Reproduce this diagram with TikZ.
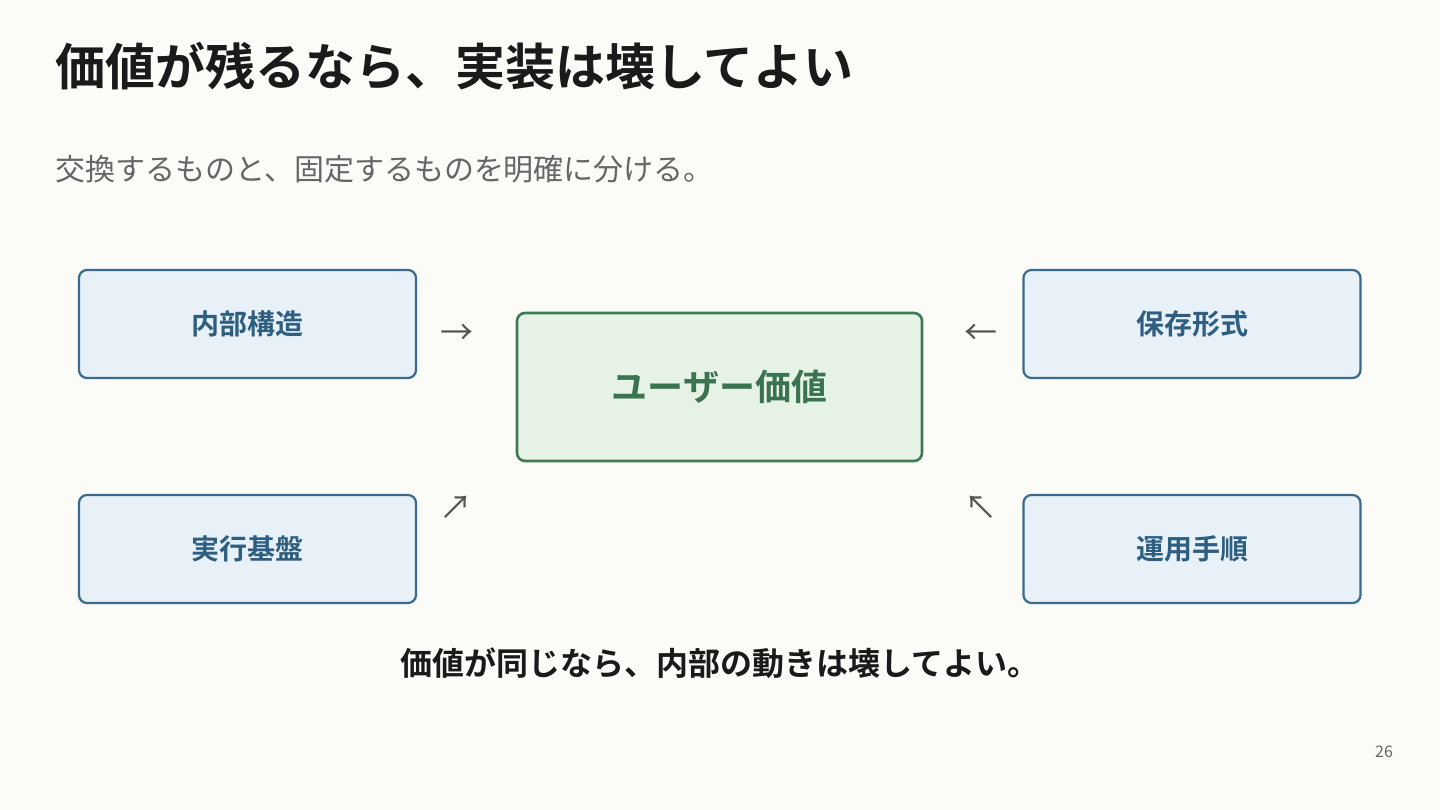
\documentclass[tikz,border=0pt]{standalone}
\usepackage{fontspec}
\setmainfont{Noto Sans CJK JP}
\newfontfamily\jpbold{Noto Sans CJK JP Bold}
\usetikzlibrary{positioning}

\definecolor{pagebg}{HTML}{FBFBF7}
\definecolor{titleink}{HTML}{1A1A1A}
\definecolor{subink}{HTML}{666666}
\definecolor{arrowink}{HTML}{555555}
\definecolor{partfill}{HTML}{E8F1F8}
\definecolor{partline}{HTML}{3A6A8C}
\definecolor{partink}{HTML}{2F5F80}
\definecolor{corefill}{HTML}{E6F2E6}
\definecolor{coreline}{HTML}{3F7A52}
\definecolor{coreink}{HTML}{3A7350}

\tikzset{
  part/.style={draw=partline, fill=partfill, line width=2.2pt, rounded corners=8pt,
    minimum width=337pt, minimum height=108pt, text=partink,
    font=\jpbold\fontsize{28}{32}\selectfont},
  core/.style={draw=coreline, fill=corefill, line width=2.6pt, rounded corners=8pt,
    minimum width=405pt, minimum height=148pt, text=coreink,
    font=\jpbold\fontsize{36}{40}\selectfont},
  glyph/.style={text=arrowink, font=\fontsize{33}{35}\selectfont, inner sep=0pt}
}

\begin{document}
\begin{tikzpicture}[x=1pt,y=-1pt]
  \useasboundingbox[fill=pagebg] (0,0) rectangle (1440,810);
  % headings
  \node[anchor=base west, text=titleink, font=\jpbold\fontsize{50}{56}\selectfont, inner sep=0pt]
    (title) at (55,86) {価値が残るなら、実装は壊してよい};
  \node[anchor=base west, text=subink, font=\fontsize{30}{34}\selectfont, inner sep=0pt]
    (subtitle) at (55,181) {交換するものと、固定するものを明確に分ける。};
  % boxes
  \node[core] (value) at (719.5,387) {ユーザー価値};
  \node[part] (inner) at (247.5,324) {内部構造};
  \node[part] (runtime) at (247.5,549) {実行基盤};
  \node[part] (format) at (1192,324) {保存形式};
  \node[part] (ops) at (1192,549) {運用手順};
  % arrows
  \node[glyph] (a1) at (457,334) {→};
  \node[glyph] (a2) at (981,334) {←};
  \node[glyph] (a3) at (456,508) {↗};
  \node[glyph] (a4) at (981,508) {↖};
  % footer
  \node[text=titleink, font=\jpbold\fontsize{32}{36}\selectfont, inner sep=0pt]
    (motto) at (720,663) {価値が同じなら、内部の動きは壊してよい。};
  \node[text=subink, font=\fontsize{16}{18}\selectfont, inner sep=0pt]
    (page) at (1384,752) {26};
\end{tikzpicture}
\end{document}
